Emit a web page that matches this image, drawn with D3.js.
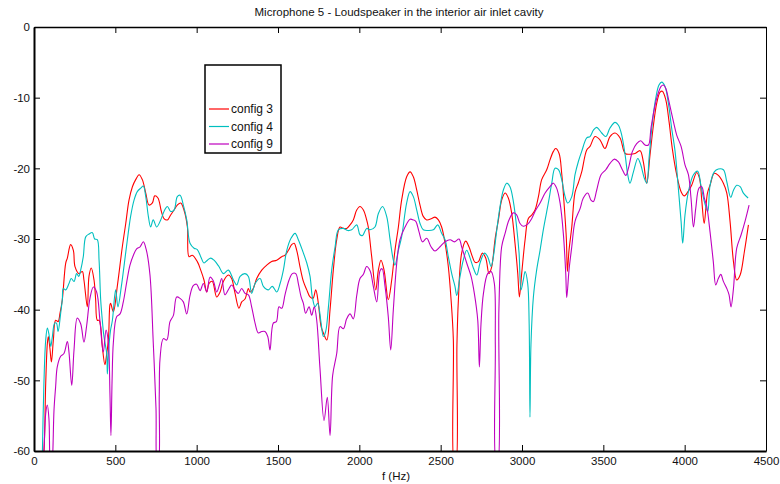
<!DOCTYPE html>
<html>
<head>
<meta charset="utf-8">
<script src="https://cdn.jsdelivr.net/npm/d3@7"></script>
<style>
  html, body { margin: 0; padding: 0; background: #fff; }
  svg { display: block; font-family: "Liberation Sans", Arial, sans-serif; }
</style>
</head>
<body>
<svg id="chart" width="780" height="484"></svg>
<script>
// ---------- data ----------
const title = "Microphone 5 - Loudspeaker in the interior air inlet cavity";
const xLabel = "f (Hz)";
const seriesNames = ["config 3", "config 4", "config 9"];
const xTicks = [0, 500, 1000, 1500, 2000, 2500, 3000, 3500, 4000, 4500];
const yTicks = [0, -10, -20, -30, -40, -50, -60];

const config3 = [[50,-62],[61,-60],[72,-50.4],[82,-44.8],[88,-43.8],[98,-45.5],[107,-47.4],[119,-44.3],[133,-41.5],[148,-41.7],[160,-40.5],[174,-38.6],[195,-33.4],[205,-32.7],[225,-30.8],[242,-31.6],[252,-33.9],[277,-34.9],[297,-34.6],[307,-35.8],[328,-39.6],[338,-35.3],[352,-34.1],[369,-35.8],[379,-38.6],[389,-41.5],[400,-41.5],[410,-42.4],[420,-45.2],[436,-47.8],[445,-46.6],[458,-44],[467,-39.3],[471,-39.1],[488,-40.3],[512,-36.7],[543,-31.1],[564,-27.8],[584,-24.5],[605,-22.6],[625,-21.6],[646,-20.9],[666,-21.6],[687,-23.5],[707,-25.2],[728,-24.9],[742,-23.9],[762,-24.2],[783,-26.1],[799,-27.1],[820,-27.3],[840,-26.6],[861,-25.9],[881,-25.2],[902,-24.9],[922,-25.9],[943,-28.3],[953,-32.5],[973,-32.3],[1004,-33.2],[1025,-34.4],[1045,-35.8],[1062,-37.5],[1076,-36.3],[1096,-36.0],[1123,-38.2],[1144,-37.5],[1164,-36.0],[1195,-35.1],[1215,-35.6],[1236,-37.7],[1260,-39.8],[1277,-38.9],[1297,-38.5],[1318,-37.0],[1328,-37.5],[1348,-37.0],[1369,-35.6],[1400,-34.4],[1431,-33.7],[1461,-33.2],[1492,-33.0],[1523,-32.5],[1543,-32.3],[1564,-31.6],[1584,-30.8],[1599,-30.6],[1615,-31.6],[1635,-33.9],[1656,-36.0],[1677,-37.2],[1697,-38.2],[1715,-38.4],[1732,-37.2],[1748,-39.1],[1765,-42.4],[1779,-43.3],[1800,-44.3],[1820,-40.0],[1840,-34.4],[1861,-30.1],[1881,-28.3],[1902,-28.5],[1922,-28.5],[1943,-28.0],[1963,-27.3],[1984,-25.9],[2004,-25.4],[2025,-25.9],[2045,-27.3],[2055,-28.3],[2076,-32.5],[2101,-37.2],[2117,-34.4],[2133,-33.0],[2152,-34.4],[2178,-38.6],[2199,-35.8],[2219,-31.6],[2240,-28.3],[2260,-24.5],[2291,-21.2],[2312,-20.5],[2332,-21.2],[2353,-23.1],[2373,-25.2],[2393,-26.8],[2414,-27.3],[2445,-27.1],[2465,-26.9],[2486,-27.3],[2506,-28.3],[2527,-30.6],[2547,-33.9],[2564,-38.6],[2578,-44.3],[2584,-62],[2592,-62],[2600,-45],[2609,-38.6],[2629,-32.0],[2654,-30.3],[2674,-31.1],[2695,-32.5],[2711,-33.3],[2732,-33.2],[2756,-32.0],[2777,-32.7],[2797,-34.9],[2814,-33.9],[2834,-30.1],[2855,-27.3],[2875,-24.5],[2896,-23.5],[2916,-24.2],[2937,-26.4],[2957,-30.6],[2974,-34.9],[2984,-38.2],[2998,-34.9],[3019,-30.1],[3039,-27.1],[3060,-26.6],[3080,-25.9],[3101,-24.0],[3121,-21.6],[3152,-20.2],[3172,-18.8],[3193,-17.6],[3207,-17.2],[3228,-17.9],[3244,-20.7],[3260,-25.4],[3273,-30.1],[3279,-34.6],[3289,-31.6],[3306,-28.3],[3326,-23.4],[3347,-22.0],[3367,-20.5],[3398,-17.4],[3418,-16.9],[3449,-15.5],[3480,-16.0],[3510,-17.2],[3541,-15.5],[3572,-15.0],[3603,-15.7],[3634,-17.9],[3664,-18.0],[3695,-17.9],[3726,-17.5],[3746,-19.1],[3767,-22.1],[3787,-18.1],[3808,-13.9],[3828,-10.8],[3849,-9.2],[3863,-9.1],[3884,-10.3],[3904,-13.4],[3924,-17.2],[3951,-20.9],[3978,-23.3],[3998,-23.9],[4023,-23.2],[4043,-22.4],[4074,-20.6],[4092,-21.5],[4105,-24.5],[4120,-27.8],[4140,-23.5],[4156,-22.4],[4182,-20.7],[4207,-21.0],[4238,-22.1],[4259,-23.5],[4279,-27.5],[4300,-33.2],[4320,-35.8],[4341,-35.1],[4367,-31.8],[4392,-28.0]];

const config4 = [[50,-62],[61,-50.4],[72,-44.3],[82,-42.6],[92,-43.5],[103,-45.2],[113,-43.8],[127,-41.9],[138,-41.9],[148,-43.1],[164,-40.5],[174,-38.6],[180,-37.0],[195,-37.2],[215,-36.3],[229,-35.6],[246,-36.0],[262,-34.9],[275,-35.3],[287,-34.4],[303,-32.5],[318,-29.7],[338,-29.3],[359,-29.1],[373,-30.0],[389,-30.1],[400,-33.0],[410,-38.6],[420,-41.5],[430,-43.8],[447,-46.2],[451,-49.1],[458,-46],[470,-43],[482,-41.5],[502,-37.2],[516,-39.6],[537,-36.7],[553,-33.9],[574,-30.1],[594,-26.8],[615,-24.5],[635,-23.3],[656,-22.8],[672,-22.5],[687,-24.0],[703,-26.8],[717,-28.3],[733,-27.3],[754,-28.3],[779,-27.3],[799,-26.1],[820,-25.4],[840,-26.1],[861,-25.9],[881,-24.0],[898,-23.8],[918,-25.2],[939,-27.3],[959,-30.6],[984,-31.3],[1004,-31.5],[1025,-32.5],[1045,-33.4],[1066,-33.0],[1086,-32.7],[1107,-33.0],[1137,-33.9],[1164,-34.9],[1195,-34.4],[1226,-35.8],[1246,-36.5],[1267,-35.3],[1297,-34.9],[1318,-35.3],[1338,-37.7],[1359,-36.3],[1390,-35.6],[1410,-36.7],[1441,-37.2],[1465,-36.7],[1492,-37.5],[1513,-36.3],[1533,-34.4],[1554,-31.6],[1580,-29.9],[1605,-29.2],[1625,-30.1],[1650,-31.6],[1677,-33.4],[1697,-35.3],[1711,-38.2],[1728,-39.6],[1744,-39.1],[1765,-41.9],[1779,-43.8],[1793,-43.1],[1810,-39.6],[1830,-34.4],[1851,-31.1],[1871,-28.7],[1902,-28.5],[1929,-28.8],[1953,-28.7],[1984,-28.0],[2004,-29.4],[2020,-29.5],[2045,-28.5],[2066,-28.7],[2096,-28.3],[2117,-26.4],[2143,-25.4],[2168,-26.8],[2189,-30.1],[2209,-33.0],[2219,-33.7],[2240,-31.6],[2260,-29.7],[2291,-24.9],[2312,-23.3],[2332,-24.0],[2353,-25.9],[2373,-27.8],[2393,-28.7],[2424,-28.8],[2455,-28.7],[2482,-28.0],[2506,-29.2],[2527,-30.1],[2547,-32.5],[2572,-35.3],[2588,-36.7],[2599,-38.0],[2619,-35.3],[2639,-33.0],[2660,-31.6],[2681,-32.7],[2701,-34.1],[2722,-35.1],[2742,-33.4],[2769,-32.0],[2789,-32.5],[2810,-33.9],[2824,-32.5],[2845,-28.7],[2865,-25.4],[2885,-23.1],[2906,-22.1],[2926,-22.6],[2947,-24.7],[2967,-28.3],[2982,-32.0],[2994,-37.2],[3008,-35.8],[3019,-34.6],[3035,-36.3],[3044,-42],[3049,-55.2],[3055,-45],[3070,-38.2],[3090,-34.4],[3111,-31.6],[3131,-28.7],[3162,-24.9],[3183,-22.1],[3203,-20.0],[3224,-20.2],[3244,-21.6],[3265,-24.0],[3281,-24.9],[3306,-24.0],[3326,-20.9],[3347,-19.0],[3367,-17.6],[3398,-15.7],[3418,-15.5],[3439,-14.6],[3459,-14.2],[3490,-15.0],[3515,-15.5],[3541,-14.3],[3572,-13.5],[3593,-13.9],[3613,-15.3],[3634,-18.1],[3650,-20.9],[3664,-22.1],[3685,-20.5],[3712,-18.6],[3730,-19.5],[3752,-21.4],[3767,-22.1],[3781,-18.6],[3802,-13.4],[3822,-10.1],[3842,-8.2],[3859,-7.8],[3879,-8.4],[3900,-10.8],[3920,-14.3],[3941,-17.6],[3961,-22.8],[3978,-27.5],[3988,-30.6],[4002,-26.6],[4023,-23.3],[4054,-20.9],[4080,-20.4],[4100,-22.4],[4121,-24.7],[4142,-26.1],[4156,-22.4],[4182,-20.5],[4207,-20.1],[4238,-20.2],[4259,-21.9],[4283,-24.1],[4300,-23.1],[4320,-22.4],[4341,-22.6],[4361,-23.5],[4390,-24.2]];

const config9 = [[50,-63],[61,-60],[72,-54.7],[82,-53.5],[92,-55.5],[100,-62],[110,-63],[116,-60],[123,-54.2],[133,-50.9],[143,-48.1],[164,-46.6],[184,-46.2],[205,-44.5],[215,-46.0],[232,-50.7],[246,-45.7],[266,-41.2],[287,-42.0],[307,-44.6],[324,-42.2],[344,-38.4],[365,-36.8],[385,-37.5],[406,-41.7],[426,-46.0],[443,-42.9],[457,-44.6],[467,-52],[473,-57.8],[480,-50],[488,-44.6],[508,-41.0],[529,-40.6],[549,-38.9],[570,-36.1],[590,-33.7],[611,-32.3],[631,-31.4],[652,-31.1],[672,-30.4],[690,-31.5],[713,-35.1],[733,-44.6],[750,-54.0],[758,-62],[764,-62],[770,-52],[775,-46.9],[795,-44.1],[816,-44.3],[836,-41.7],[857,-40.8],[877,-38.2],[898,-38.4],[918,-38.9],[939,-40.6],[959,-38.0],[979,-36.6],[1000,-36.4],[1021,-37.3],[1041,-36.3],[1062,-37.5],[1082,-35.4],[1102,-35.9],[1123,-37.5],[1140,-36.5],[1154,-35.6],[1174,-37.9],[1199,-37.0],[1215,-36.5],[1236,-37.2],[1256,-37.7],[1277,-37.0],[1297,-37.7],[1318,-37.9],[1338,-39.6],[1359,-41.9],[1379,-43.3],[1400,-43.1],[1420,-43.1],[1437,-43.8],[1451,-45.7],[1471,-41.9],[1490,-41.7],[1506,-39.6],[1523,-39.8],[1543,-37.9],[1568,-35.8],[1588,-34.9],[1609,-34.9],[1625,-36.3],[1642,-38.2],[1656,-39.1],[1670,-40.5],[1691,-39.6],[1707,-40.8],[1723,-39.6],[1738,-41.5],[1758,-48.3],[1783,-55.7],[1803,-52.4],[1820,-57.8],[1836,-49.3],[1861,-46.2],[1881,-42.4],[1902,-42.7],[1922,-41.3],[1943,-40.6],[1963,-41.3],[1984,-38.0],[2004,-35.6],[2025,-35.0],[2045,-33.9],[2066,-34.5],[2086,-36.7],[2107,-38.9],[2127,-34.5],[2140,-34.2],[2158,-36.7],[2178,-41.0],[2193,-45.7],[2209,-40.0],[2230,-33.4],[2250,-30.1],[2281,-28.3],[2312,-27.2],[2332,-27.3],[2347,-27.5],[2367,-29.0],[2388,-30.4],[2414,-29.9],[2441,-31.1],[2465,-31.7],[2496,-31.1],[2527,-30.4],[2558,-30.1],[2584,-30.4],[2613,-30.0],[2629,-31.1],[2660,-33.4],[2687,-35.3],[2707,-37.7],[2728,-41.5],[2738,-48.1],[2748,-42],[2763,-37.7],[2789,-34.9],[2810,-34.6],[2830,-36.3],[2836,-45],[2842,-62],[2850,-62],[2858,-40],[2875,-31.1],[2896,-29.2],[2920,-27.3],[2947,-26.3],[2967,-26.6],[2988,-27.8],[3008,-28.2],[3035,-27.9],[3060,-27.1],[3080,-26.1],[3111,-24.9],[3142,-23.5],[3172,-22.6],[3193,-22.1],[3213,-22.8],[3234,-24.9],[3254,-29.2],[3269,-34.9],[3275,-38.3],[3289,-34.4],[3306,-31.1],[3326,-27.5],[3357,-25.7],[3377,-24.2],[3404,-23.5],[3424,-24.5],[3439,-24.7],[3459,-23.1],[3486,-20.9],[3515,-20.2],[3541,-19.3],[3568,-18.7],[3593,-19.1],[3617,-20.2],[3638,-21.0],[3654,-20.0],[3679,-17.6],[3705,-16.5],[3730,-16.1],[3756,-16.7],[3777,-16.7],[3793,-14.3],[3814,-11.5],[3834,-9.6],[3855,-8.4],[3869,-8.2],[3884,-8.7],[3904,-10.6],[3931,-13.4],[3951,-15.3],[3978,-16.9],[4002,-19.5],[4023,-20.9],[4039,-24.2],[4054,-28.3],[4068,-25.7],[4088,-22.8],[4105,-22.6],[4121,-24.2],[4136,-25.4],[4156,-29.0],[4176,-33.2],[4191,-36.5],[4207,-35.6],[4222,-35.0],[4238,-36.0],[4259,-37.0],[4273,-37.9],[4285,-39.6],[4300,-37.0],[4320,-31.3],[4347,-29.4],[4371,-27.5],[4396,-25.2]];

const seriesData = [config3, config4, config9];
const seriesColors = ["#ff0000", "#00bfbf", "#bf00bf"];

// ---------- layout ----------
const svg = d3.select("#chart");
const pLeft = 34, pRight = 766, pTop = 27, pBottom = 451;
const x = d3.scaleLinear().domain([0, 4500]).range([pLeft, pRight]);
const y = d3.scaleLinear().domain([-60, 0]).range([pBottom, pTop]);

svg.append("defs").append("clipPath").attr("id", "plotclip")
  .append("rect").attr("x", pLeft).attr("y", pTop)
  .attr("width", pRight - pLeft).attr("height", pBottom - pTop);

// lines
const line = d3.line()
  .x(d => x(d[0])).y(d => y(d[1]))
  .curve(d3.curveCatmullRom.alpha(0.5));

const gLines = svg.append("g").attr("clip-path", "url(#plotclip)");
seriesData.forEach((s, i) => {
  gLines.append("path").datum(s)
    .attr("fill", "none")
    .attr("stroke", seriesColors[i])
    .attr("stroke-width", 1.1)
    .attr("stroke-linejoin", "round")
    .attr("d", line);
});

// axes (MATLAB-style box with inward ticks)
const tickLen = 6;
const axisFont = 11.5;
const plainFmt = d => String(d);
const bottomAxis = d3.axisBottom(x).tickValues(xTicks).tickSizeInner(-tickLen).tickSizeOuter(0).tickPadding(6).tickFormat(plainFmt);
const topAxis = d3.axisTop(x).tickValues(xTicks).tickSizeInner(-tickLen).tickSizeOuter(0).tickFormat("");
const leftAxis = d3.axisLeft(y).tickValues(yTicks).tickSizeInner(-tickLen).tickSizeOuter(0).tickPadding(4).tickFormat(plainFmt);
const rightAxis = d3.axisRight(y).tickValues(yTicks).tickSizeInner(-tickLen).tickSizeOuter(0).tickFormat("");

function styleAxis(g, w) {
  g.select(".domain").attr("stroke", "#000").attr("stroke-width", w);
  g.selectAll(".tick line").attr("stroke", "#000").attr("stroke-width", 1);
  g.selectAll(".tick text").attr("fill", "#111").attr("font-size", axisFont)
    .attr("font-family", "'Liberation Sans', Arial, sans-serif");
}
svg.append("g").attr("transform", `translate(0,${pTop})`).call(topAxis).call(g => styleAxis(g, 1.5));
svg.append("g").attr("transform", `translate(${pRight},0)`).call(rightAxis).call(g => styleAxis(g, 1));
svg.append("g").attr("transform", `translate(0,${pBottom})`).call(bottomAxis).call(g => styleAxis(g, 2));
svg.append("g").attr("transform", `translate(${pLeft},0)`).call(leftAxis).call(g => styleAxis(g, 2));

// title & axis label
svg.append("text").attr("x", 399).attr("y", 16).attr("text-anchor", "middle")
  .attr("font-size", 11.5).attr("fill", "#111").text(title);
svg.append("text").attr("x", 396).attr("y", 480).attr("text-anchor", "middle")
  .attr("font-size", 11.5).attr("fill", "#111").text(xLabel);

// legend
const lg = svg.append("g");
lg.append("rect").attr("x", 205).attr("y", 65).attr("width", 76).attr("height", 88)
  .attr("fill", "#fff").attr("stroke", "#000").attr("stroke-width", 1.5);
const legendY = d3.scalePoint().domain(seriesNames).range([109, 144]);
seriesNames.forEach((n, i) => {
  const yy = legendY(n);
  lg.append("line").attr("x1", 209).attr("x2", 229).attr("y1", yy).attr("y2", yy)
    .attr("stroke", seriesColors[i]).attr("stroke-width", 1.2);
  lg.append("text").attr("x", 231).attr("y", yy).attr("dy", "0.35em")
    .attr("font-size", 12).attr("fill", "#111").text(n);
});
</script>
</body>
</html>
